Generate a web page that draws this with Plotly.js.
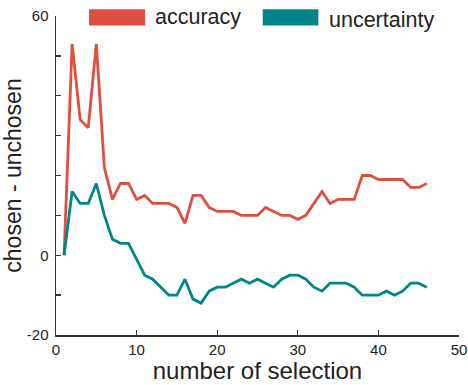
<!DOCTYPE html>
<html>
<head>
<meta charset="utf-8">
<script src="https://cdn.plot.ly/plotly-3.0.1.min.js"></script>
<style>html,body{margin:0;padding:0;background:#fff}#chart{width:468px;height:385px}</style>
</head>
<body>
<div id="chart"></div>
<script>
const selection = Array.from({length: 46}, (_, i) => i + 1);
const accuracy = [0, 53, 34, 32, 53, 22, 14, 18, 18, 14, 15, 13, 13, 13, 12, 8, 15, 15, 12, 11,
  11, 11, 10, 10, 10, 12, 11, 10, 10, 9, 10, 13, 16, 13, 14, 14, 14, 20, 20, 19,
  19, 19, 19, 17, 17, 18];
const uncertainty = [0, 16, 13, 13, 18, 10, 4, 3, 3, -1, -5, -6, -8, -10, -10, -6, -11, -12, -9, -8,
  -8, -7, -6, -7, -6, -7, -8, -6, -5, -5, -6, -8, -9, -7, -7, -7, -8, -10, -10, -10,
  -9, -10, -9, -7, -7, -8];
const seriesNames = ['accuracy', 'uncertainty'];
const colors = ['#DF4F3F', '#00858B'];
const xTicks = [0, 10, 20, 30, 40, 50];
const yTicks = [-20, -10, 0, 10, 20, 30, 40, 50, 60];
const yTickText = ['-20', '', '0', '', '', '', '', '', '60'];

const traces = [accuracy, uncertainty].map((vals, i) => ({
  x: selection, y: vals, type: 'scatter', mode: 'lines', name: seriesNames[i],
  line: {color: colors[i], width: 2.8}, showlegend: false
}));

const font = {family: 'Liberation Sans, Arial, sans-serif', color: '#222'};
const layout = {
  width: 468, height: 385,
  margin: {l: 56, r: 9, t: 16, b: 50},
  paper_bgcolor: '#fff', plot_bgcolor: '#fff',
  font: Object.assign({size: 14}, font),
  xaxis: {
    range: [0, 50], tickvals: xTicks, ticks: 'inside', ticklen: 5, tickwidth: 1.3, tickcolor: '#333',
    showline: true, linecolor: '#333', linewidth: 1.5, showgrid: false, zeroline: false,
    tickfont: {size: 15, color: '#222'},
    title: {text: 'number of selection', font: {size: 24, color: '#222'}, standoff: 0}
  },
  yaxis: {
    range: [-20, 60], tickvals: yTicks, ticktext: yTickText, ticks: 'inside', ticklen: 5, tickwidth: 1.3, tickcolor: '#333',
    showline: true, linecolor: '#333', linewidth: 1.5, showgrid: false, zeroline: false,
    tickfont: {size: 15, color: '#222'}, ticklabelstandoff: 3,
    title: {text: 'chosen - unchosen', font: {size: 23, color: '#222'}, standoff: 0}
  },
  shapes: [
    {type: 'rect', xref: 'paper', yref: 'paper', x0: 0.082, x1: 0.221, y0: 0.970, y1: 1.021, fillcolor: colors[0], line: {width: 0}},
    {type: 'rect', xref: 'paper', yref: 'paper', x0: 0.513, x1: 0.651, y0: 0.970, y1: 1.021, fillcolor: colors[1], line: {width: 0}}
  ],
  annotations: [
    {xref: 'paper', yref: 'paper', x: 0.240, y: 0.996, xanchor: 'left', yanchor: 'middle', text: seriesNames[0], showarrow: false, font: {size: 21.5, color: '#222'}},
    {xref: 'paper', yref: 'paper', x: 0.672, y: 0.988, xanchor: 'left', yanchor: 'middle', text: seriesNames[1], showarrow: false, font: {size: 21.5, color: '#222'}}
  ]
};
Plotly.newPlot('chart', traces, layout, {displayModeBar: false, staticPlot: true});
</script>
</body>
</html>
